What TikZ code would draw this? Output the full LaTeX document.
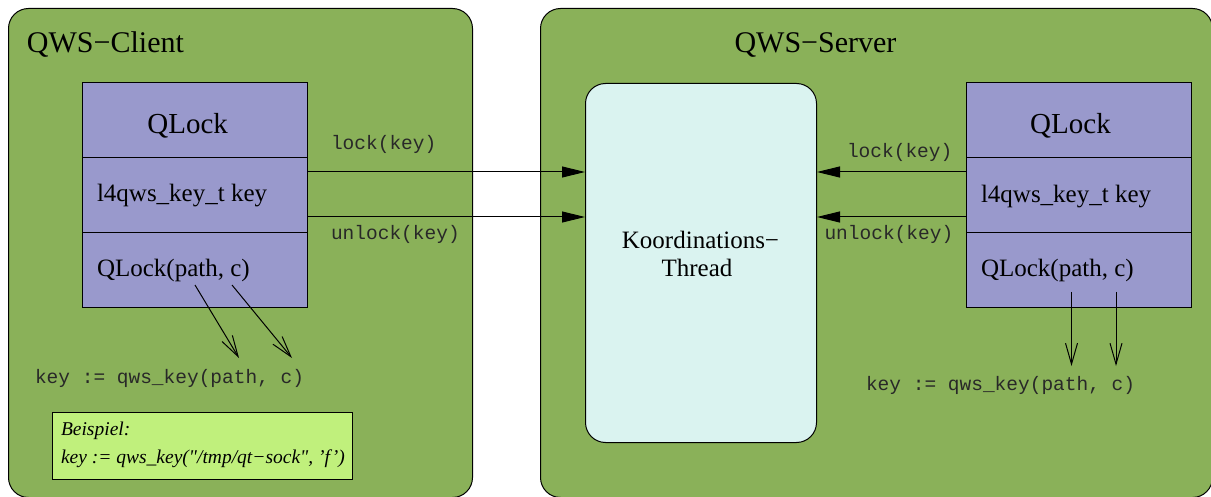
\documentclass[tikz,border=0pt]{standalone}
\usepackage{fontspec}
\setmainfont{Liberation Serif}
\setmonofont{Liberation Mono}
\newfontfamily\notefamily{Liberation Serif}[Ligatures=TeXOff]
\usetikzlibrary{arrows.meta}

\definecolor{panelgreen}{RGB}{138,177,89}
\definecolor{lockblue}{RGB}{153,153,204}
\definecolor{threadcyan}{RGB}{218,243,240}
\definecolor{notelime}{RGB}{192,240,124}
\definecolor{codegray}{RGB}{40,40,40}

\tikzset{
  panel/.style={draw, fill=panelgreen, rounded corners=20pt, line width=1pt,
    anchor=north west, inner sep=0pt},
  lockrow/.style={draw, fill=lockblue, line width=1pt, minimum width=225pt,
    minimum height=75pt, anchor=north west, inner sep=0pt},
  threadbox/.style={draw, fill=threadcyan, rounded corners=20pt, line width=1pt,
    minimum width=231pt, minimum height=359pt, anchor=north west, inner sep=0pt},
  notebox/.style={draw, fill=notelime, line width=1pt, minimum width=300pt,
    minimum height=67pt, anchor=north west, inner sep=0pt},
  txt/.style={inner sep=0pt, outer sep=0pt},
  titletxt/.style={txt, font=\fontsize{30}{36}\selectfont},
  headtxt/.style={txt, font=\fontsize{29}{34}\selectfont},
  rowtxt/.style={txt, font=\fontsize{25}{30}\selectfont},
  codetxt/.style={txt, text=codegray, font=\ttfamily\fontsize{19.5}{24}\selectfont},
  notetxt/.style={txt, font=\notefamily\itshape\fontsize{19.5}{24}\selectfont},
  callarrow/.style={line width=1pt, -{Triangle[length=23pt, width=11pt]}},
  derivearrow/.style={line width=1pt, -{Straight Barb[length=21pt, width=12pt]}},
}

\begin{document}
\begin{tikzpicture}[x=1pt, y=-1pt]
\useasboundingbox (0,0) rectangle (1211,497);

% the two processes
\node[panel, minimum width=464pt, minimum height=489pt] (client) at (8,8) {};
\node[panel, minimum width=672pt, minimum height=489pt] (server) at (540,8) {};

\node[titletxt, anchor=base west] (clienttitle) at (27,53) {QWS−Client};
\node[titletxt, anchor=base] (servertitle) at (815.5,53) {QWS−Server};

% client-side QLock object
\node[lockrow] (lhead) at (82,82) {};
\node[lockrow] (lkey) at (82,157) {};
\node[lockrow] (lctor) at (82,232) {};
\node[headtxt, anchor=base] (lheadtxt) at (187.7,134) {QLock};
\node[rowtxt, anchor=base west] (lkeytxt) at (97,202) {l4qws\_key\_t key};
\node[rowtxt, anchor=base west] (lctortxt) at (97,277) {QLock(path, c)};

% server-side QLock object
\node[lockrow] (rhead) at (966,82) {};
\node[lockrow] (rkey) at (966,157) {};
\node[lockrow] (rctor) at (966,232) {};
\node[headtxt, anchor=base] (rheadtxt) at (1070.5,134) {QLock};
\node[rowtxt, anchor=base west] (rkeytxt) at (981,203) {l4qws\_key\_t key};
\node[rowtxt, anchor=base west] (rctortxt) at (981,277) {QLock(path, c)};

% coordination thread in the server
\node[threadbox] (thread) at (585,83) {};
\node[rowtxt, anchor=base] (threadtxta) at (700.5,249) {Koordinations−};
\node[rowtxt, anchor=base] (threadtxtb) at (697,277) {Thread};

% lock / unlock requests
\draw[callarrow] (lkey.east |- 0,172) -- (thread.west |- 0,172);
\draw[callarrow] (lkey.east |- 0,217) -- (thread.west |- 0,217);
\draw[callarrow] (rkey.west |- 0,172) -- (thread.east |- 0,172);
\draw[callarrow] (rkey.west |- 0,217) -- (thread.east |- 0,217);

\node[codetxt, anchor=base west] (llock) at (331,150) {lock(key)};
\node[codetxt, anchor=base west] (lunlock) at (331,240) {unlock(key)};
\node[codetxt, anchor=base west] (rlock) at (847,158) {lock(key)};
\node[codetxt, anchor=base west] (runlock) at (824.5,240) {unlock(key)};

% key derivation
\node[codetxt, anchor=base west] (lderive) at (35,383) {key := qws\_key(path, c)};
\node[codetxt, anchor=base west] (rderive) at (866,390) {key := qws\_key(path, c)};

\coordinate (lpath) at (195,285);
\coordinate (lc) at (232,285);
\coordinate (lpathend) at (239,358);
\coordinate (lcend) at (292,358);
\draw[derivearrow] (lpath) -- (lpathend);
\draw[derivearrow] (lc) -- (lcend);

\coordinate (rpath) at (1071.5,292);
\coordinate (rc) at (1116,292);
\draw[derivearrow] (rpath) -- (rpath |- 0,366);
\draw[derivearrow] (rc) -- (rc |- 0,366);

% example
\node[notebox] (example) at (52,412) {};
\node[notetxt, anchor=base west] (exa) at (61,435) {Beispiel:};
\node[notetxt, anchor=base west] (exb) at (61,463) {key := qws\_key("/tmp/qt−sock", ’f’)};

\end{tikzpicture}
\end{document}
